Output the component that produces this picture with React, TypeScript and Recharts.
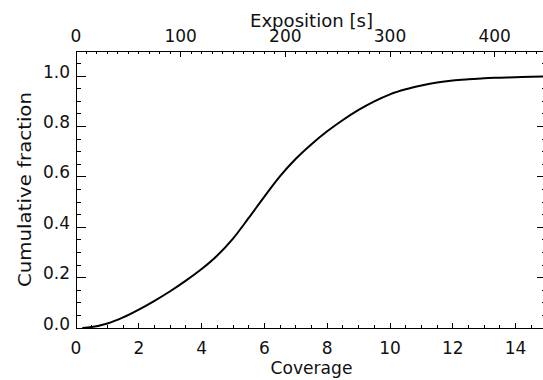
import React from 'react';
import { LineChart, Line, XAxis, YAxis, Label, ReferenceLine } from 'recharts';

const coverage = [0.2, 0.5, 1, 1.5, 2, 2.5, 3, 3.5, 4, 4.5, 5, 5.5, 6, 6.5, 7, 7.5, 8, 8.5, 9, 9.5, 10, 10.5, 11, 11.5, 12, 12.5, 13, 13.5, 14, 14.5, 15];
const fraction = [0, 0.004, 0.018, 0.042, 0.073, 0.108, 0.146, 0.188, 0.234, 0.288, 0.355, 0.437, 0.522, 0.603, 0.672, 0.73, 0.781, 0.826, 0.866, 0.9, 0.928, 0.948, 0.963, 0.975, 0.983, 0.988, 0.992, 0.994, 0.996, 0.998, 0.999];
const secondsPerCoverage = 30;

const coverageMajor = [0, 2, 4, 6, 8, 10, 12, 14];
const expositionMajor = [0, 100, 200, 300, 400];
const fractionMajor = [0, 0.2, 0.4, 0.6, 0.8, 1.0];
const fractionLabels = ['0.0', '0.2', '0.4', '0.6', '0.8', '1.0'];

const coverageDomain = [0, 15];
const expositionDomain = [0, 450];
const fractionDomain = [0, 1.1];

const steps = (lo: number, hi: number, st: number) => {
  const out: number[] = [];
  for (let i = 0; lo + i * st <= hi + 1e-9; i++) out.push(Math.round((lo + i * st) * 1000) / 1000);
  return out;
};

const coverageTicks = steps(0, 15, 0.5);
const expositionTicks = steps(0, 450, 10);
const fractionTicks = steps(0, 1.1, 0.05);

const data = coverage.map((c, i) => ({ c, e: c * secondsPerCoverage, f: fraction[i] }));

const FONT = 'DejaVu Sans';
const TXT = '#111';
const AX = { stroke: '#000', strokeWidth: 1, shapeRendering: 'crispEdges' } as any;
const TICK_COLOR = '#000';
const TICK_W = 1;

const isMajor = (v: number, majors: number[]) => majors.some((m) => Math.abs(m - v) < 1e-6);

const BottomTick = (p: any) => {
  const { x, y, payload } = p;
  if (!isMajor(payload.value, coverageMajor)) return <g />;
  return (
    <text x={x} y={Number(y) + 26} textAnchor="middle" fontFamily={FONT} fontSize={17} fill={TXT}>
      {String(payload.value)}
    </text>
  );
};

const TopTick = (p: any) => {
  const { x, y, payload } = p;
  if (!isMajor(payload.value, expositionMajor)) return <g />;
  return (
    <text x={x} y={Number(y) - 9.5} textAnchor="middle" fontFamily={FONT} fontSize={17} fill={TXT}>
      {String(payload.value)}
    </text>
  );
};

const LeftTick = (p: any) => {
  const { x, y, payload } = p;
  const idx = fractionMajor.findIndex((m) => Math.abs(m - payload.value) < 1e-6);
  if (idx < 0) return <g />;
  return (
    <text x={Number(x) - 6} y={Number(y) + 1.5} textAnchor="end" fontFamily={FONT} fontSize={17} fill={TXT}>
      {fractionLabels[idx]}
    </text>
  );
};

const vTickShape = (len: number, fromBottom: boolean) => (p: any) => {
  const x = Number(p.x1);
  const yb = Math.max(Number(p.y1), Number(p.y2));
  const yt = Math.min(Number(p.y1), Number(p.y2));
  const y0 = fromBottom ? yb : yt;
  const y1 = fromBottom ? yb - len : yt + len;
  return <path d={`M${x},${y0}L${x},${y1}`} stroke={TICK_COLOR} strokeWidth={TICK_W} fill="none" shapeRendering="crispEdges" />;
};

const hTickShape = (len: number) => (p: any) => {
  const y = Number(p.y1);
  const xl = Math.min(Number(p.x1), Number(p.x2));
  const xr = Math.max(Number(p.x1), Number(p.x2));
  return <path d={`M${xl},${y}L${xl + len},${y}M${xr},${y}L${xr - len},${y}`} stroke={TICK_COLOR} strokeWidth={TICK_W} fill="none" shapeRendering="crispEdges" />;
};

export default function App() {
  return (
    <div style={{ position: 'absolute', left: 0, top: 0, width: 543, height: 380, overflow: 'hidden', background: '#fff' }}>
      <LineChart width={560} height={380} data={data} margin={{ top: 0, right: 0, bottom: 0, left: 0 }}>
        <XAxis
          xAxisId="bottom"
          dataKey="c"
          type="number"
          domain={coverageDomain}
          ticks={coverageTicks}
          interval={0}
          allowDataOverflow
          height={52}
          tickSize={0}
          tickMargin={0}
          tickLine={false}
          tick={<BottomTick />}
          axisLine={AX}
        >
          <Label
            content={(lp: any) => {
              const vb = lp.viewBox;
              return (
                <text x={vb.x + vb.width / 2} y={vb.y + 46} textAnchor="middle" fontFamily={FONT} fontSize={18} fill={TXT} textLength={82} lengthAdjust="spacingAndGlyphs">
                  Coverage
                </text>
              );
            }}
          />
        </XAxis>
        <XAxis
          xAxisId="top"
          dataKey="e"
          orientation="top"
          type="number"
          domain={expositionDomain}
          ticks={expositionTicks}
          interval={0}
          allowDataOverflow
          height={51}
          tickSize={0}
          tickMargin={0}
          tickLine={false}
          tick={<TopTick />}
          axisLine={AX}
        >
          <Label
            content={(lp: any) => {
              const vb = lp.viewBox;
              return (
                <text x={vb.x + vb.width / 2} y={26.5} textAnchor="middle" fontFamily={FONT} fontSize={18} fill={TXT} textLength={123} lengthAdjust="spacingAndGlyphs">
                  Exposition [s]
                </text>
              );
            }}
          />
        </XAxis>
        <YAxis
          yAxisId="left"
          type="number"
          domain={fractionDomain}
          ticks={fractionTicks}
          interval={0}
          allowDataOverflow
          width={76}
          tickSize={0}
          tickMargin={0}
          tickLine={false}
          tick={<LeftTick />}
          axisLine={AX}
        >
          <Label
            content={(lp: any) => {
              const vb = lp.viewBox;
              const cy = vb.y + vb.height / 2;
              return (
                <text x={31} y={cy} transform={`rotate(-90 31 ${cy})`} textAnchor="middle" fontFamily={FONT} fontSize={18} fill={TXT} textLength={195} lengthAdjust="spacingAndGlyphs">
                  Cumulative fraction
                </text>
              );
            }}
          />
        </YAxis>
        <YAxis
          yAxisId="right"
          orientation="right"
          type="number"
          domain={fractionDomain}
          ticks={[]}
          tick={false}
          tickLine={false}
          allowDataOverflow
          width={13}
          axisLine={AX}
        />
        {coverageTicks.map((v) => (
          <ReferenceLine
            key={`bt${v}`}
            xAxisId="bottom"
            yAxisId="left"
            x={v}
            ifOverflow="extendDomain"
            shape={vTickShape(isMajor(v, coverageMajor) ? 5 : 3, true)}
          />
        ))}
        {expositionTicks.map((v) => (
          <ReferenceLine
            key={`tt${v}`}
            xAxisId="top"
            yAxisId="left"
            x={v}
            ifOverflow="extendDomain"
            shape={vTickShape(isMajor(v, expositionMajor) ? 6 : 3, false)}
          />
        ))}
        {fractionTicks.map((v) => (
          <ReferenceLine
            key={`yt${v}`}
            xAxisId="bottom"
            yAxisId="left"
            y={v}
            ifOverflow="extendDomain"
            shape={hTickShape(isMajor(v, fractionMajor) ? 10 : 5)}
          />
        ))}
        <Line
          xAxisId="bottom"
          yAxisId="left"
          dataKey="f"
          type="monotone"
          stroke="#000"
          strokeWidth={2}
          dot={false}
          activeDot={false}
          isAnimationActive={false}
        />
      </LineChart>
    </div>
  );
}
